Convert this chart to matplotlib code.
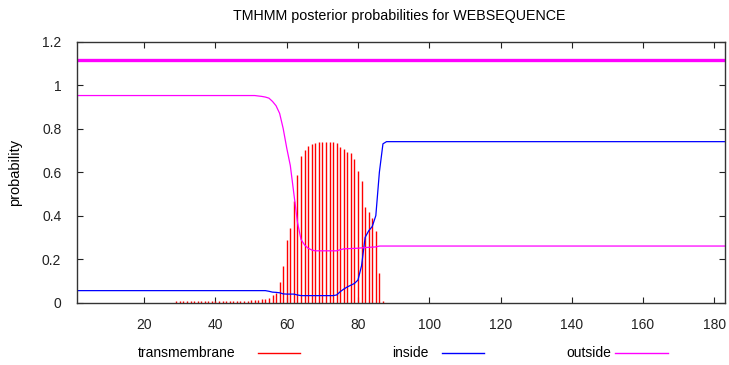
import matplotlib
matplotlib.use('Agg')
import matplotlib.pyplot as plt
from matplotlib.lines import Line2D

plt.rcParams['font.family'] = ['Liberation Sans', 'DejaVu Sans']

title = 'TMHMM posterior probabilities for WEBSEQUENCE'
seq_len = 183

# transmembrane posterior, one value per residue
tm_pos = list(range(29, 88))
tm_val = [0.005, 0.005, 0.005, 0.005, 0.005, 0.005, 0.005, 0.005, 0.005, 0.005,
          0.005, 0.005, 0.005, 0.005, 0.006, 0.006, 0.007, 0.007, 0.008, 0.008,
          0.008, 0.010, 0.010, 0.012, 0.015, 0.018, 0.020, 0.035, 0.045, 0.095,
          0.170, 0.290, 0.345, 0.465, 0.585, 0.675, 0.700, 0.720, 0.728, 0.735,
          0.740, 0.740, 0.740, 0.740, 0.740, 0.732, 0.717, 0.705, 0.692, 0.686,
          0.659, 0.605, 0.559, 0.441, 0.416, 0.390, 0.329, 0.138, 0.007]

# inside / outside curves (residue, probability)
inside_x = [1, 54, 55, 56, 57, 58, 59, 60, 62, 63, 64, 73, 74, 75, 76, 77, 78,
            79, 80, 81, 82, 83, 84, 85, 86, 87, 88, seq_len]
inside_y = [0.055, 0.055, 0.052, 0.048, 0.047, 0.045, 0.040, 0.039, 0.039,
            0.035, 0.032, 0.032, 0.035, 0.050, 0.062, 0.072, 0.080, 0.088,
            0.104, 0.170, 0.300, 0.330, 0.350, 0.400, 0.600, 0.730, 0.740, 0.740]

outside_x = [1, 51, 52, 53, 54, 55, 56, 57, 58, 59, 60, 61, 62, 63, 64, 65, 66,
             67, 68, 74, 75, 76, 80, 82, 85, 86, seq_len]
outside_y = [0.952, 0.952, 0.950, 0.948, 0.945, 0.940, 0.925, 0.905, 0.870,
             0.800, 0.710, 0.630, 0.500, 0.370, 0.290, 0.265, 0.250, 0.242,
             0.238, 0.238, 0.243, 0.247, 0.250, 0.253, 0.256, 0.260, 0.260]

topology_y = 1.115

fig = plt.figure(figsize=(7.29, 3.65), dpi=100)
ax = fig.add_axes([0.105, 0.171, 0.8895, 0.715])

ax.vlines(tm_pos, 0, tm_val, color='#ff0000', lw=1.0)
ax.plot(inside_x, inside_y, color='#0000ff', lw=0.9)
ax.plot(outside_x, outside_y, color='#ff00ff', lw=0.9)
ax.plot([1, seq_len], [topology_y, topology_y], color='#ff00ff', lw=2.4,
        solid_capstyle='butt')

ax.set_xlim(1, seq_len)
ax.set_ylim(0, 1.2)
ax.set_xticks(range(20, 181, 20))
ax.set_yticks([0, 0.2, 0.4, 0.6, 0.8, 1.0, 1.2])
ax.set_yticklabels(['0', '0.2', '0.4', '0.6', '0.8', '1', '1.2'])
ax.tick_params(direction='in', length=4, width=0.8, top=True, right=True,
               labelsize=10, colors='#222222')
ax.tick_params(axis='x', pad=11)
ax.tick_params(axis='y', pad=11)
for s in ax.spines.values():
    s.set_color('#333333')
    s.set_linewidth(1.0)

ax.set_ylabel('probability', fontsize=10.5, labelpad=14)
fig.text(0.548, 0.955, title, ha='center', va='center', fontsize=10.3)

# legend row
leg_y = 1 - 353 / 365
items = [('transmembrane', '#ff0000', 138, 258, 300),
         ('inside', '#0000ff', 392, 442, 484),
         ('outside', '#ff00ff', 566, 615, 668)]
for label, col, tx, l0, l1 in items:
    fig.text(tx / 729, leg_y, label, ha='left', va='center', fontsize=10)
    fig.add_artist(Line2D([l0 / 729, l1 / 729], [leg_y, leg_y],
                          transform=fig.transFigure, color=col, lw=1.0))

fig.savefig('out.png', dpi=100)
